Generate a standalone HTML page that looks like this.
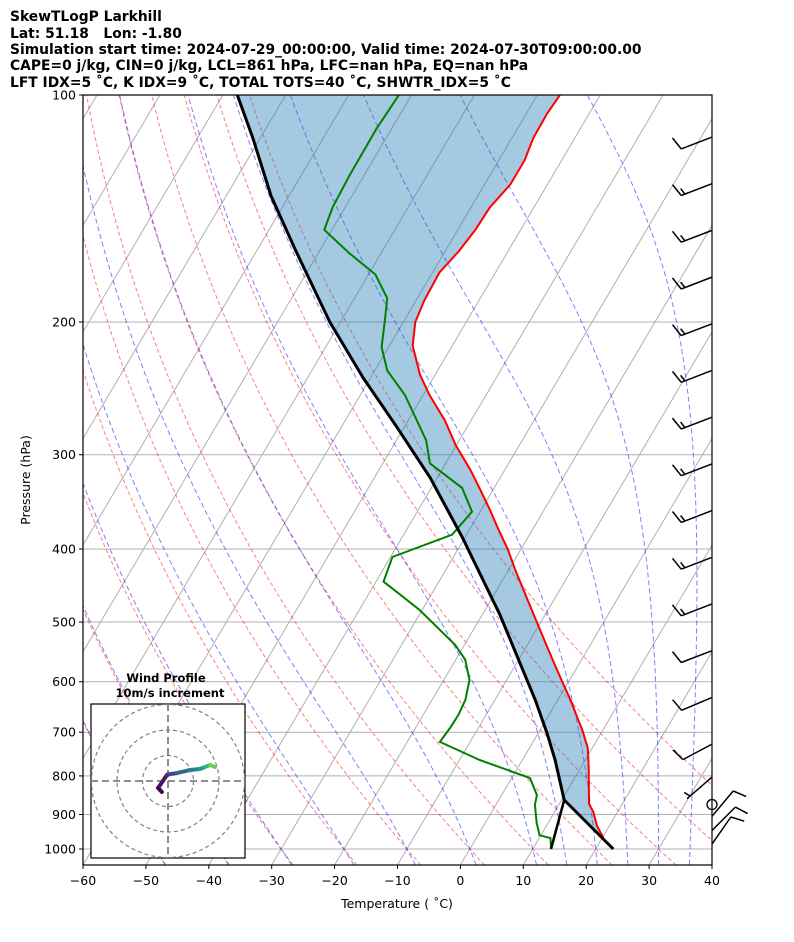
<!DOCTYPE html>
<html><head><meta charset="utf-8"><style>
body{margin:0;background:#fff;}
svg text{font-family:"DejaVu Sans","Liberation Sans",sans-serif;}
</style></head><body>
<svg id="chart" width="794" height="937" xmlns="http://www.w3.org/2000/svg">
<g font-weight="bold" font-size="13.85" fill="#000">
<text x="10" y="21">SkewTLogP Larkhill</text>
<text x="10" y="38" xml:space="preserve">Lat: 51.18   Lon: -1.80</text>
<text x="10" y="54">Simulation start time: 2024-07-29_00:00:00, Valid time: 2024-07-30T09:00:00.00</text>
<text x="10" y="70">CAPE=0 j/kg, CIN=0 j/kg, LCL=861 hPa, LFC=nan hPa, EQ=nan hPa</text>
<text x="10" y="87">LFT IDX=5 ˚C, K IDX=9 ˚C, TOTAL TOTS=40 ˚C, SHWTR_IDX=5 ˚C</text>
</g>
<defs><clipPath id="clip"><rect x="83" y="95" width="629" height="770"/></clipPath></defs>
<g id="plot" clip-path="url(#clip)"></g>
<g id="axes"></g>
<g id="barbs"></g>
<g id="hodo"></g>
</svg>
<script>
// ---- data ----
const tempP = [967,932,893,871,781,735,695,670,634,600,561,512,468,427,401,377,355,334,314,291,270,250,235,215,200,187,172,161,151,141,131.5,122,114,106,100];
const tempT = [20.2,18.05,16.15,14.7,11.3,9.3,6.7,4.8,2.0,-1.0,-4.6,-9.4,-14.1,-18.9,-22.0,-25.4,-28.6,-32.0,-35.5,-40.2,-44.2,-49.0,-52.4,-56.3,-58.1,-58.7,-58.9,-57.8,-57.2,-57.0,-55.9,-55.9,-56.6,-56.7,-56.4];
const dewP = [1000,967,959,924,874,848,805,762,721,691,664,634,597,561,536,482,460,442,410,383,357,332,308,287,250,232,216,199,186,173,162,151,141,128,111,100];
const dewT = [12.9,11.8,9.8,8.2,6.2,5.6,2.9,-6.8,-14.8,-14.5,-14.4,-14.7,-15.9,-18.5,-21.5,-30.4,-34.9,-38.8,-39.7,-32.3,-31.3,-35.1,-42.5,-45.3,-52.9,-58.0,-61.1,-63.1,-64.8,-68.9,-75.1,-81.2,-82.0,-82.3,-82.4,-82.0];
const parcelP = [1000,861,762,702,634,489,387,322,276,237,200,160,136,114,100];
const parcelT = [22.8,10.4,5.2,1.4,-3.6,-17.2,-30.3,-41.1,-51.1,-61.2,-71.7,-84.1,-92.9,-101.2,-107.7];
const lclLineP = [1000,861];
const lclLineT = [12.9,10.4];
const pTicks = [100,200,300,400,500,600,700,800,900,1000];
const tTicks = [-60,-50,-40,-30,-20,-10,0,10,20,30,40];
const isotherms = [-150,-140,-130,-120,-110,-100,-90,-80,-70,-60,-50,-40,-30,-20,-10,0,10,20,30,40];
const dryT0 = [-50,-40,-30,-20,-10,0,10,20,30,40,50];
const moistT0 = [-50,-40,-30,-20,-10,0,10,15,20,25,30,35];
const barbP = [113.7,131.1,151.2,174.4,201.1,231.9,267.5,308.5,355.8,410.4,473.2,545.8,629.4,725.9,802.7,873,905,945,985];
const barbSpd = [10,15,15,15,15,15,15,15,15,15,15,10,10,10,5,0,10,10,10];
const barbDir = [249,249,249,249,249,249,249,249,249,249,249,249,247,242,229,0,40,45,35];
const hodoU = [-2.4,-3.9,-3.1,-0.4,0.8,3.5,8.6,12.5,14.5,16.5,18.4];
const hodoV = [-4.3,-2.7,-1.6,2.4,2.7,3.1,4.3,4.7,5.5,6.3,5.5];

// ---- scales ----
const X0=83,X1=712,YT=95,YB=865,PX=629/100,SK=0.59;
function Y(p){return YT+754*Math.log10(p/100);}
function X(T,p){return X0+(T+60)*PX+SK*(YB-Y(p));}
const NS='http://www.w3.org/2000/svg';
function mk(tag,attrs,parent){const e=document.createElementNS(NS,tag);for(const k in attrs)e.setAttribute(k,attrs[k]);parent.appendChild(e);return e;}
const plot=document.getElementById('plot'), axes=document.getElementById('axes');
function pathFrom(P,T){return P.map((p,i)=>(i?'L':'M')+X(T[i],p).toFixed(1)+','+Y(p).toFixed(1)).join('');}

pTicks.forEach(p=>{const l=mk('line',{x1:X0,x2:X1,y1:Y(p),y2:Y(p),stroke:'#b0b0b0','stroke-width':1},plot);

});
isotherms.forEach(t=>{const l=mk('line',{x1:X(t,1050),y1:Y(1050),x2:X(t,100),y2:Y(100),stroke:'#b0b0b0','stroke-width':1},plot);

});
const levs=[];for(let p=1050;p>=100;p-=10)levs.push(p);
dryT0.forEach(t0=>{const th=t0+273.15;const T=levs.map(p=>th*Math.pow(p/1000,0.2857)-273.15);
const l=mk('path',{d:pathFrom(levs,T),fill:'none',stroke:'#ff0000','stroke-opacity':0.5,'stroke-width':1,'stroke-dasharray':'4,2.5'},plot);

});
function dTdp(T,p){const Rd=287.04,Cp=1005.7,Lv=2.501e6,eps=0.622;const es=6.112*Math.exp(17.67*(T-273.15)/(T-29.65));const rs=eps*es/(p-es);
return (Rd*T+Lv*rs)/(Cp+Lv*Lv*rs*eps/(Rd*T*T))/p;}
moistT0.forEach(t0=>{let T=t0+273.15,P=[1000],Ts=[t0];
for(let p=1000;p>100;p-=2){const k1=dTdp(T,p),k2=dTdp(T-k1,p-2);T=T-(k1+k2);P.push(p-2);Ts.push(T-273.15);}
let T2=t0+273.15;const Pd=[],Td=[];for(let p=1000;p<1050;p+=2){const k1=dTdp(T2,p),k2=dTdp(T2+2*k1,p+2);T2=T2+(k1+k2);Pd.push(p+2);Td.push(T2-273.15);}
const AP=Pd.reverse().concat(P),AT=Td.reverse().concat(Ts);
const l=mk('path',{d:pathFrom(AP,AT),fill:'none',stroke:'#0000ff','stroke-opacity':0.5,'stroke-width':1,'stroke-dasharray':'5,3'},plot);

});
const sh=mk('path',{d:pathFrom(parcelP,parcelT)+pathFrom(tempP.slice().reverse(),tempT.slice().reverse()).replace('M','L')+'Z',fill:'#1f77b4','fill-opacity':0.4,stroke:'none'},plot);


const tl=mk('path',{d:pathFrom(tempP,tempT),fill:'none',stroke:'#ff0000','stroke-width':2},plot);


const dl=mk('path',{d:pathFrom(dewP,dewT),fill:'none',stroke:'#008000','stroke-width':2},plot);


const pl=mk('path',{d:pathFrom(parcelP,parcelT),fill:'none',stroke:'#000','stroke-width':3,'stroke-linejoin':'round'},plot);


const ll=mk('path',{d:pathFrom(lclLineP,lclLineT),fill:'none',stroke:'#000','stroke-width':2.5},plot);



const fr=mk('rect',{x:X0,y:YT,width:X1-X0,height:YB-YT,fill:'none',stroke:'#000','stroke-width':1.2},axes);


pTicks.forEach(p=>{mk('line',{x1:X0-4,x2:X0,y1:Y(p),y2:Y(p),stroke:'#000'},axes);
const t=mk('text',{x:X0-7,y:Y(p)+4.5,'text-anchor':'end','font-size':12.5},axes);t.textContent=p;

});
tTicks.forEach(v=>{const x=X0+(v+60)*PX;mk('line',{x1:x,x2:x,y1:YB,y2:YB+4,stroke:'#000'},axes);
const t=mk('text',{x:x,y:YB+20,'text-anchor':'middle','font-size':12.5},axes);t.textContent=(v<0?'\u2212'+(-v):v);

});
const xt=mk('text',{x:397,y:908,'text-anchor':'middle','font-size':12.5},axes);xt.textContent='Temperature ( ˚C)';


const yt=mk('text',{x:30,y:480,'text-anchor':'middle','font-size':12.5,transform:'rotate(-90 30 480)'},axes);yt.textContent='Pressure (hPa)';



const bg=document.getElementById('barbs');
barbP.forEach((p,i)=>{const bx=X1,by=Y(p),spd=barbSpd[i];
if(spd===0){const c=mk('circle',{cx:bx,cy:by,r:5,fill:'none',stroke:'#000','stroke-width':1.3},bg);

return;}
const a=barbDir[i]*Math.PI/180;const sx=Math.sin(a),sy=-Math.cos(a);const nx=-sy,ny=sx;
const L=33,ex=bx+sx*L,ey=by+sy*L;
let d='M'+bx+','+by+'L'+ex.toFixed(1)+','+ey.toFixed(1);
const tk=(f,len)=>{const ox=bx+sx*(L-f),oy=by+sy*(L-f);return 'M'+ox.toFixed(1)+','+oy.toFixed(1)+'L'+(ox+len*(0.3*sx+0.95*nx)).toFixed(1)+','+(oy+len*(0.3*sy+0.95*ny)).toFixed(1);};
let s=spd,f=0;
while(s>=10){d+=tk(f,14);f+=4;s-=10;}
if(s>=5){d+=tk(f===0?4:f,7);}
const g=mk('path',{d:d,fill:'none',stroke:'#000','stroke-width':1.5},bg);

});

const hg=document.getElementById('hodo');const HX=168,HY=781,HS=2.55;
const hb=mk('rect',{x:91,y:704,width:154,height:154,fill:'#fff',stroke:'#000','stroke-width':1.2},hg);


[10,20,30].forEach(r=>{const c=mk('circle',{cx:HX,cy:HY,r:r*HS,fill:'none',stroke:'#808080','stroke-width':1.2,'stroke-dasharray':'4,3'},hg);

});
mk('line',{x1:91,x2:245,y1:HY,y2:HY,stroke:'#808080','stroke-width':1.8,'stroke-dasharray':'7,4'},hg);
mk('line',{x1:HX,x2:HX,y1:704,y2:858,stroke:'#808080','stroke-width':1.8,'stroke-dasharray':'7,4'},hg);
const vir=['#440154','#46085c','#471365','#472d7b','#3e4989','#31688e','#26828e','#1f9e89','#35b779','#6ece58','#b5de2b','#fde725'];
for(let i=0;i<hodoU.length-1;i++){const s=mk('line',{x1:HX+hodoU[i]*HS,y1:HY-hodoV[i]*HS,x2:HX+hodoU[i+1]*HS,y2:HY-hodoV[i+1]*HS,stroke:vir[i],'stroke-width':4,'stroke-linecap':'round'},hg);

}
const h1=mk('text',{x:166,y:682,'text-anchor':'middle','font-size':11.5,'font-weight':'bold'},hg);h1.textContent='Wind Profile';


const h2=mk('text',{x:170,y:697,'text-anchor':'middle','font-size':11.5,'font-weight':'bold'},hg);h2.textContent='10m/s increment';


</script>
</body></html>
